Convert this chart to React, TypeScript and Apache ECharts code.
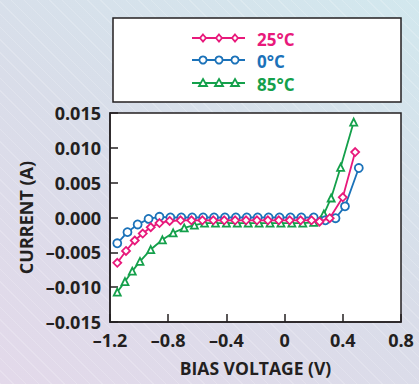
import React, { useEffect, useRef } from 'react';
import * as echarts from 'echarts';

// 25 °C (pink, diamonds)
const v25 = [-1.15, -1.09, -1.03, -0.975, -0.92, -0.86, -0.79, -0.715, -0.64, -0.565, -0.49, -0.415, -0.34, -0.265, -0.19, -0.115, -0.04, 0.035, 0.11, 0.185, 0.24, 0.31, 0.4, 0.485];
const i25 = [-0.0065, -0.0048, -0.0033, -0.0023, -0.0014, -0.0008, -0.0005, -0.0004, -0.0004, -0.0004, -0.0004, -0.0004, -0.0004, -0.0004, -0.0004, -0.0004, -0.0004, -0.0004, -0.0004, -0.0004, -0.0006, -0.0001, 0.0029, 0.0094];

// 0 °C (blue, circles)
const v0 = [-1.15, -1.08, -1.01, -0.935, -0.86, -0.785, -0.71, -0.635, -0.56, -0.485, -0.41, -0.335, -0.26, -0.185, -0.11, -0.035, 0.04, 0.115, 0.2, 0.28, 0.35, 0.415, 0.51];
const i0 = [-0.0037, -0.0021, -0.001, -0.0002, 0.0001, 0.0, 0.0, 0.0, 0.0, 0.0, 0.0, 0.0, 0.0, 0.0, 0.0, 0.0, 0.0, 0.0, 0.0, -0.0004, -0.0001, 0.0016, 0.0071];

// 85 °C (green, triangles)
const v85 = [-1.15, -1.097, -1.047, -0.994, -0.92, -0.84, -0.766, -0.69, -0.62, -0.55, -0.475, -0.4, -0.325, -0.25, -0.175, -0.1, -0.025, 0.05, 0.125, 0.2, 0.27, 0.32, 0.385, 0.475];
const i85 = [-0.0107, -0.0092, -0.0077, -0.0063, -0.0046, -0.0032, -0.0022, -0.0015, -0.0011, -0.0008, -0.0008, -0.0008, -0.0008, -0.0008, -0.0008, -0.0008, -0.0008, -0.0008, -0.0008, -0.0007, 0.0005, 0.0028, 0.0072, 0.0137];

const legendLabels = ['25°C', '0°C', '85°C'];
const xName = 'BIAS VOLTAGE (V)';
const yName = 'CURRENT (A)';

const PINK = '#e8197b';
const BLUE = '#1b72b9';
const GREEN = '#14a04b';
const DARK = '#231f20';
const FONT = '"Open Sans", "Noto Sans", sans-serif';

const pairs = (xs: number[], ys: number[]) => xs.map((x, k) => [x, ys[k]]);

const fmtSigned = (v: number, d: number) => {
  if (Math.abs(v) < 1e-9) return d === 1 ? '0' : (0).toFixed(d);
  return (v < 0 ? '–' : '') + Math.abs(v).toFixed(d);
};

function legendRow(y: number, color: string, kind: string, label: string) {
  const children: any[] = [
    { type: 'line', shape: { x1: 192, y1: y, x2: 245, y2: y }, style: { stroke: color, lineWidth: 1.8 } },
  ];
  [203, 219, 235].forEach((cx) => {
    const st = { fill: '#fff', stroke: color, lineWidth: 1.8 };
    if (kind === 'circle') children.push({ type: 'circle', shape: { cx, cy: y, r: 3.6 }, style: st });
    else if (kind === 'diamond')
      children.push({ type: 'polygon', shape: { points: [[cx, y - 3.5], [cx + 3, y], [cx, y + 3.5], [cx - 3, y]] }, style: st });
    else
      children.push({ type: 'polygon', shape: { points: [[cx, y - 4], [cx + 4, y + 3], [cx - 4, y + 3]] }, style: st });
  });
  children.push({
    type: 'text',
    style: { x: 257, y: y + 1, text: label, fill: color, font: `bold 17px ${FONT}`, textVerticalAlign: 'middle' },
  });
  return { type: 'group', children };
}

export default function App() {
  const ref = useRef<HTMLDivElement>(null);
  useEffect(() => {
    if (!ref.current) return;
    const chart = echarts.init(ref.current, undefined, { renderer: 'svg' });
    const mk = (name: string, xs: number[], ys: number[], color: string, symbol: string, size: number, z: number) => ({
      name,
      type: 'line',
      data: pairs(xs, ys),
      symbol,
      symbolSize: size,
      showAllSymbol: true,
      z,
      lineStyle: { color, width: 1.8 },
      itemStyle: { color: '#fff', borderColor: color, borderWidth: 1.8 },
      emphasis: { disabled: true },
    });
    chart.setOption({
      animation: false,
      backgroundColor: 'transparent',
      textStyle: { fontFamily: FONT },
      grid: {
        left: 110, right: 18, top: 113, bottom: 62,
        show: true, backgroundColor: '#fff', borderColor: DARK, borderWidth: 1.5,
      },
      xAxis: {
        type: 'value', min: -1.2, max: 0.8, interval: 0.4,
        name: xName, nameLocation: 'middle', nameGap: 37,
        nameTextStyle: { color: DARK, fontWeight: 'bold', fontSize: 17.5, fontFamily: FONT },
        axisLine: { onZero: false, lineStyle: { color: DARK, width: 1.5 } },
        axisTick: { inside: true, length: 8, lineStyle: { color: DARK, width: 1.5 } },
        axisLabel: { color: DARK, fontWeight: 'bold', fontSize: 18, lineHeight: 14, margin: 11, formatter: (v: number) => fmtSigned(v, 1) },
        splitLine: { show: false },
      },
      yAxis: {
        type: 'value', min: -0.015, max: 0.015, interval: 0.005,
        name: yName, nameLocation: 'middle', nameGap: 66, nameRotate: 90,
        nameTextStyle: { color: DARK, fontWeight: 'bold', fontSize: 18, fontFamily: FONT },
        axisLine: { onZero: false, lineStyle: { color: DARK, width: 1.5 } },
        axisTick: { inside: true, length: 8, lineStyle: { color: DARK, width: 1.5 } },
        axisLabel: { color: DARK, fontWeight: 'bold', fontSize: 18, lineHeight: 14, margin: 9, formatter: (v: number) => fmtSigned(v, 3) },
        splitLine: { show: false },
      },
      graphic: [
        {
          type: 'rect', shape: { x: 113, y: 18, width: 288, height: 84 },
          style: { fill: '#fff', stroke: DARK, lineWidth: 1.5 },
        },
        legendRow(38, PINK, 'diamond', legendLabels[0]),
        legendRow(60, BLUE, 'circle', legendLabels[1]),
        legendRow(83, GREEN, 'triangle', legendLabels[2]),
      ],
      series: [
        mk(legendLabels[2], v85, i85, GREEN, 'triangle', 7, 2),
        mk(legendLabels[1], v0, i0, BLUE, 'circle', 8, 3),
        mk(legendLabels[0], v25, i25, PINK, 'diamond', 8, 4),
      ],
    });
    return () => chart.dispose();
  }, []);
  return (
    <div
      style={{
        position: 'fixed', left: 0, top: 0, width: 419, height: 384,
        background:
          'repeating-linear-gradient(45deg, rgba(255,255,255,0.18) 0px, rgba(255,255,255,0.18) 1px, transparent 1px, transparent 9px), linear-gradient(30deg, #e3d9ea 0%, #d9dde9 50%, #d2e8ee 100%)',
      }}
    >
      <div ref={ref} style={{ width: 419, height: 384 }} />
    </div>
  );
}
